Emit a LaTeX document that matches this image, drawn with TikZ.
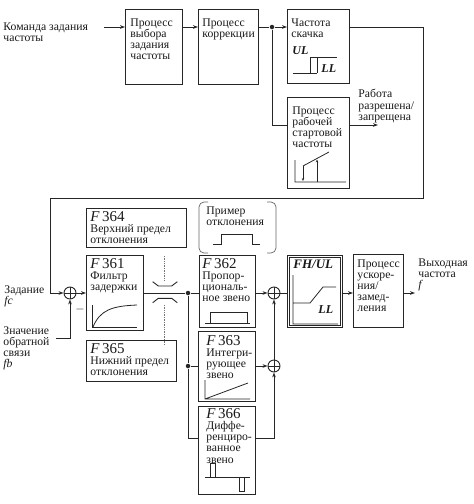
\documentclass[tikz,border=0pt]{standalone}
\usepackage{fontspec}
\setmainfont{Liberation Serif}
\usetikzlibrary{arrows.meta,positioning}

\begin{document}
\begin{tikzpicture}[x=1pt, y=-1pt, line width=0.9pt, draw=black!85,
    >={Stealth[length=5pt,width=3.6pt]},
    every node/.style={font=\fontsize{11.7}{11.2}\selectfont, text=black!90},
    box/.style={draw, rectangle, anchor=north west, inner sep=0pt},
    txt/.style={anchor=north west, align=left, inner sep=0pt},
    sumnode/.style={draw, circle, minimum size=12pt, inner sep=0pt,
        path picture={\draw[line width=0.8pt] (path picture bounding box.north) -- (path picture bounding box.south)
            (path picture bounding box.west) -- (path picture bounding box.east);}},
    junction/.style={circle, fill=black!85, inner sep=0pt, minimum size=4.5pt},
    ital/.style={txt, font=\fontsize{12}{12}\selectfont\bfseries\itshape},
    tiny arrow/.style={-{Stealth[length=3pt,width=2.4pt]}, line width=0.7pt}]

    \useasboundingbox (0,0) rectangle (474,504);

    % Define blocks
    \node (sel)   [box, minimum width=57pt, minimum height=75pt] at (125,9) {};
    \node (corr)  [box, minimum width=60pt, minimum height=75pt] at (198,9) {};
    \node (jump)  [box, minimum width=62pt, minimum height=74pt] at (287,9) {};
    \node (start) [box, minimum width=62pt, minimum height=91pt] at (287,97) {};
    \node (f364)  [box, minimum width=100pt, minimum height=39pt] at (86,208) {};
    \node (f361)  [box, minimum width=57pt, minimum height=75pt] at (86,255) {};
    \node (f365)  [box, minimum width=90pt, minimum height=41pt] at (86,340) {};
    \node (f362)  [box, minimum width=56pt, minimum height=72pt] at (199,255) {};
    \node (f363)  [box, minimum width=57pt, minimum height=70pt] at (198,331) {};
    \node (f366)  [box, minimum width=57pt, minimum height=88pt] at (198,406) {};
    \node (fh)    [box, double, line width=0.7pt, double distance=1.2pt, minimum width=53pt, minimum height=70pt] at (288,256) {};
    \node (acc)   [box, minimum width=50pt, minimum height=73pt] at (353,254) {};

    % Sums and junctions
    \node (sum1) [sumnode] at (70,293) {};
    \node (sum2) [sumnode] at (274,293) {};
    \node (sum3) [sumnode] at (274,366) {};
    \node (j1) [junction] at (272,27) {};
    \node (j2) [junction] at (188,293) {};
    \node (j3) [junction] at (188,366) {};

    % Texts
    \node (cmd) [txt] at (3,22) {Команда задания\\частоты};
    \node (selT) [txt] at (130,18) {Процесс\\выбора\\задания\\частоты};
    \node (corrT) [txt] at (202,18) {Процесс\\коррекции};
    \node (jumpT) [txt] at (291,18) {Частота\\скачка};
    \node (ul) [ital] at (292,46) {UL};
    \node (ll1) [ital] at (321,64) {LL};
    \node (startT) [txt] at (292,106) {Процесс\\рабочей\\стартовой\\частоты};
    \node (enableT) [txt] at (358,89) {Работа\\разрешена/\\запрещена};
    \node (fcT) [txt] at (4,285) {Задание\\\textit{fc}};
    \node (fbT) [txt] at (3,326) {Значение\\обратной\\связи\\\textit{fb}};
    \node (minus) at (80,309) {$-$};
    \node (f364T) [txt] at (90,211) {{\fontsize{15}{15}\selectfont\textit{F}\,364}\\Верхний предел\\отклонения};
    \node (f361T) [txt] at (90,258) {{\fontsize{15}{15}\selectfont\textit{F}\,361}\\Фильтр\\задержки};
    \node (f365T) [txt] at (90,343) {{\fontsize{15}{15}\selectfont\textit{F}\,365}\\Нижний предел\\отклонения};
    \node (f362T) [txt] at (202,258) {{\fontsize{15}{15}\selectfont\textit{F}\,362}\\Пропор-\\циональ-\\ное звено};
    \node (f363T) [txt] at (206,335) {{\fontsize{15}{15}\selectfont\textit{F}\,363}\\Интегри-\\рующее\\звено};
    \node (f366T) [txt] at (206,408) {{\fontsize{15}{15}\selectfont\textit{F}\,366}\\Диффе-\\ренциро-\\ванное\\звено};
    \node (exT) [txt] at (206,206) {Пример\\отклонения};
    \node (fhT) [ital, font=\fontsize{13}{13}\selectfont\bfseries\itshape] at (293,259) {FH/UL};
    \node (ll2) [ital] at (318,305) {LL};
    \node (accT) [txt] at (357,259) {Процесс\\ускоре-\\ния/\\замед-\\ления};
    \node (outT) [txt] at (418,258) {Выходная\\частота\\\textit{f}};

    % Connections, top row
    \coordinate (cmdin) at (104,27);
    \coordinate (startin) at (287,125);
    \coordinate (enable) at (378,125);
    \coordinate (loopR) at (423,198);
    \coordinate (loopL) at (50,198);
    \draw[->] (cmdin) -- (sel.west |- cmdin);
    \draw[->] (sel.east |- cmdin) -- (corr.west |- cmdin);
    \draw (corr.east |- cmdin) -- (j1);
    \draw[->] (j1) -- (jump.west |- j1);
    \draw (j1) |- (startin);
    \draw[->] (start.east |- startin) -- (enable);
    \draw[->] (jump.east |- cmdin) -| (loopR) -- (loopL) |- (sum1);

    % Connections, bottom row
    \coordinate (fbin) at (56,338);
    \coordinate (f366in) at (198,438);
    \coordinate (fout) at (415,293);
    \draw[->] (fbin) -| (sum1);
    \draw[->] (sum1) -- (f361.west |- sum1);
    \draw (f361.east |- j2) -- (j2);
    \draw (j2) -- (f362.west |- j2);
    \draw (j2) -- (j3);
    \draw (j3) |- (f366in);
    \draw (j3) -- (f363.west |- j3);
    \draw[->] (f362.east |- sum2) -- (sum2);
    \draw[->] (f363.east |- sum3) -- (sum3);
    \draw[->] (f366.east |- f366in) -| (sum3);
    \draw[->] (sum3) -- (sum2);
    \draw (sum2) -- (fh.west |- sum2);
    \draw[->] (fh.east |- sum2) -- (acc.west |- sum2);
    \draw[->] (acc.east |- sum2) -- (fout);

    % Limiter and deviation example
    \draw (152.7,281.7) -- (158.3,286) -- (171.7,286) -- (177.3,281.7);
    \draw (152.7,302.7) -- (158.3,298.3) -- (171.7,298.3) -- (177.3,302.7);
    \draw[densely dotted, line width=0.7pt, black!55] (164,256) -- (164,281) (164,305) -- (164,345);
    \draw[black!60, line width=0.7pt, rounded corners=5pt] (208,202) -- (199,202) -- (199,253) -- (208,253);
    \draw[black!60, line width=0.7pt, rounded corners=5pt] (267,202) -- (276,202) -- (276,253) -- (267,253);
    \draw[line width=0.8pt] (213,244) -- (221,244) -- (221,234) -- (252,234) -- (252,244) -- (260,244);

    % Small graphs inside blocks
    \draw[line width=0.8pt] (293,73) -- (317,73) (310,73) -- (310,57) (317,73) -- (317,57) (310,57) -- (337,57);
    \draw[line width=0.8pt] (295,160) -- (295,182) -- (346,182) (303,166) -- (329,152);
    \draw[tiny arrow] (303,166) -- (303,181);
    \draw[tiny arrow] (317,181.5) -- (317,159.5);
    \draw[line width=0.8pt] (92,305) -- (92,327) -- (137,327);
    \draw[line width=0.8pt] (93,327) .. controls (100,310) and (112,306) .. (137,305);
    \draw[line width=0.8pt] (205,323) -- (250,323) (210,323) -- (210,312) -- (247,312) -- (247,323);
    \draw[line width=0.8pt] (205,380) -- (205,399) -- (250,399) (205,399) -- (248,383);
    \draw[line width=0.8pt] (205,477) -- (250,477) (210,477) -- (210,463) -- (215,463) -- (215,477)
        (239,477) -- (239,491) -- (244,491) -- (244,477);
    \draw[line width=0.8pt] (293,275) -- (293,324) -- (338,324) (293,303) -- (310,303) -- (323,287) -- (336,287);

\end{tikzpicture}
\end{document}
